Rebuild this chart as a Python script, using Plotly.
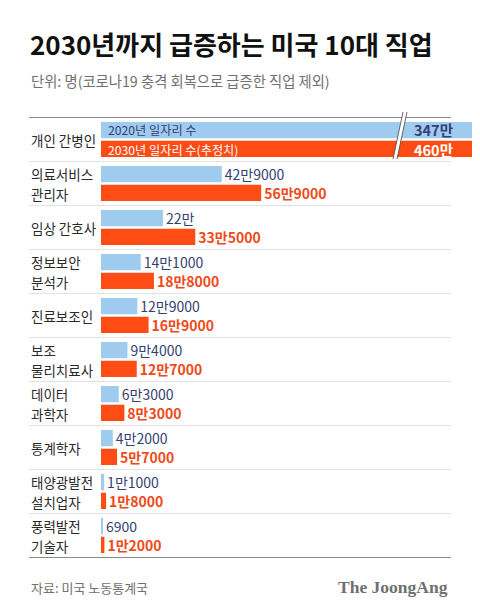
import plotly.graph_objects as go

categories = ["개인 간병인", "의료서비스<br>관리자", "임상 간호사", "정보보안<br>분석가", "진료보조인",
              "보조<br>물리치료사", "데이터<br>과학자", "통계학자", "태양광발전<br>설치업자", "풍력발전<br>기술자"]
jobs_2020 = [3470000, 429000, 220000, 141000, 129000, 94000, 63000, 42000, 11000, 6900]
jobs_2030 = [4600000, 569000, 335000, 188000, 169000, 127000, 83000, 57000, 18000, 12000]
labels_2020 = ["347만", "42만9000", "22만", "14만1000", "12만9000", "9만4000", "6만3000", "4만2000", "1만1000", "6900"]
labels_2030 = ["460만", "56만9000", "33만5000", "18만8000", "16만9000", "12만7000", "8만3000", "5만7000", "1만8000", "1만2000"]
series_names = ["2020년 일자리 수", "2030년 일자리 수(추정치)"]

# page body has an 8px margin: size the figure so it fits the 480x615 window
OFF = 8
W, H = 480 - 2 * OFF, 615 - 2 * OFF
ML, MR, MT = 101 - OFF, 0, 117 - OFF
MB = H - (558 - OFF)
PW, PH = W - ML - MR, H - MT - MB

def px(xw):
    return (xw - OFF - ML) / PW

def py(yw):
    return (H - MB - (yw - OFF)) / PH

FONT = "Noto Sans CJK KR"
BLUE = "#9ecbee"
ORANGE = "#ff4b14"
NAVY = "#363f72"
ORANGE_TXT = "#f04a1a"

fig = go.Figure()
fig.add_trace(go.Bar(
    y=categories, x=jobs_2020, orientation="h", name=series_names[0],
    marker=dict(color=BLUE, line=dict(width=0)),
    text=[""] + labels_2020[1:], textposition="outside", constraintext="none",
    textfont=dict(family=FONT, size=14, color=NAVY), cliponaxis=False,
))
fig.add_trace(go.Bar(
    y=categories, x=jobs_2030, orientation="h", name=series_names[1],
    marker=dict(color=ORANGE, line=dict(width=0)),
    text=[""] + labels_2030[1:], textposition="outside", constraintext="none",
    textfont=dict(family=FONT, size=14, color=ORANGE_TXT, weight="bold"), cliponaxis=False,
))

annotations = []
for i, c in enumerate(categories):
    lines = c.split("<br>")
    shifts = [0] if len(lines) == 1 else [10, -10]
    for ln, s in zip(lines, shifts):
        annotations.append(dict(x=px(29), y=c, xref="paper", yref="y", text=ln, showarrow=False,
                                xanchor="left", yanchor="middle", yshift=s,
                                font=dict(family=FONT, size=13.5, color="#2a2a2a")))

annotations += [
    dict(x=px(106), y=categories[0], xref="paper", yref="y", yshift=10, text=series_names[0],
         showarrow=False, xanchor="left", yanchor="middle",
         font=dict(family=FONT, size=12.2, color=NAVY)),
    dict(x=px(106), y=categories[0], xref="paper", yref="y", yshift=-10, text=series_names[1],
         showarrow=False, xanchor="left", yanchor="middle",
         font=dict(family=FONT, size=12.2, color="white")),
    dict(x=px(412), y=categories[0], xref="paper", yref="y", yshift=10, text=labels_2020[0],
         showarrow=False, xanchor="left", yanchor="middle",
         font=dict(family=FONT, size=14.5, color=NAVY, weight="bold")),
    dict(x=px(412), y=categories[0], xref="paper", yref="y", yshift=-10, text=labels_2030[0],
         showarrow=False, xanchor="left", yanchor="middle",
         font=dict(family=FONT, size=14.5, color="white", weight="bold")),
]

annotations += [
    dict(x=px(28), y=py(44), xref="paper", yref="paper", text="<b>2030년까지 급증하는 미국 10대 직업</b>",
         showarrow=False, xanchor="left", yanchor="middle",
         font=dict(family=FONT, size=26, color="#111111", weight=900)),
    dict(x=px(29), y=py(80), xref="paper", yref="paper", text="단위: 명(코로나19 충격 회복으로 급증한 직업 제외)",
         showarrow=False, xanchor="left", yanchor="middle",
         font=dict(family=FONT, size=14.3, color="#707070")),
    dict(x=px(29), y=py(587), xref="paper", yref="paper", text="자료: 미국 노동통계국",
         showarrow=False, xanchor="left", yanchor="middle",
         font=dict(family=FONT, size=13, color="#707070")),
    dict(x=px(450), y=py(587), xref="paper", yref="paper", text="<b>The JoongAng</b>",
         showarrow=False, xanchor="right", yanchor="middle",
         font=dict(family="Liberation Serif", size=17.5, color="#707070")),
]

shapes = []
n = len(categories)
for k in range(n + 1):
    edge = k in (0, n)
    shapes.append(dict(type="line", xref="paper", yref="y", x0=px(29), x1=px(451),
                       y0=k - 0.5, y1=k - 0.5, layer="below",
                       line=dict(color="#8a8a8a" if edge else "#e3e3e3", width=1)))

# axis break mark on first row
x_top, y_top, x_bot, y_bot, gap = 403, 112, 393, 159, 4
shapes.append(dict(type="path", xref="paper", yref="paper",
                   path=f"M {px(x_top)},{py(y_top)} L {px(x_top+gap)},{py(y_top)} L {px(x_bot+gap)},{py(y_bot)} L {px(x_bot)},{py(y_bot)} Z",
                   fillcolor="white", line=dict(width=0), layer="above"))
for dx in (0, gap):
    shapes.append(dict(type="line", xref="paper", yref="paper",
                       x0=px(x_top + dx), y0=py(y_top), x1=px(x_bot + dx), y1=py(y_bot),
                       line=dict(color="#444444", width=0.8), layer="above"))

fig.update_layout(
    width=W, height=H, margin=dict(l=ML, r=MR, t=MT, b=MB),
    paper_bgcolor="white", plot_bgcolor="white",
    barmode="group", bargap=0.15, bargroupgap=0.13,
    showlegend=False,
    xaxis=dict(range=[0, PW / 0.2815 * 1000], visible=False, fixedrange=True),
    yaxis=dict(autorange="reversed", showticklabels=False, showgrid=False, zeroline=False,
               ticks="", fixedrange=True),
    annotations=annotations, shapes=shapes,
    font=dict(family=FONT),
)

fig.write_html("out.html", config={"displayModeBar": False})
